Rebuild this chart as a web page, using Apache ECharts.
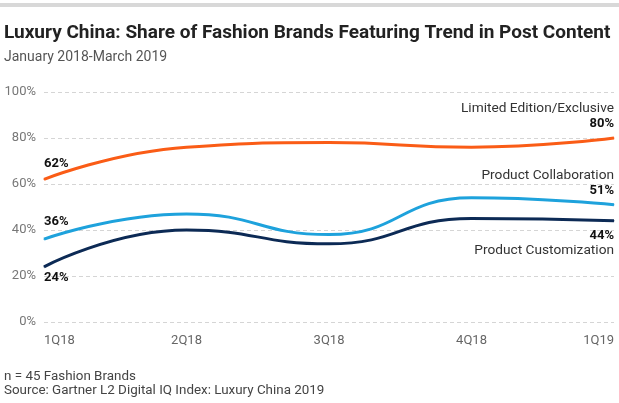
<!DOCTYPE html>
<html>
<head>
<meta charset="utf-8">
<script src="https://cdn.jsdelivr.net/npm/echarts@6/dist/echarts.min.js"></script>
<style>
  html, body { margin: 0; padding: 0; background: #fff; }
  #main { width: 619px; height: 403px; }
</style>
</head>
<body>
<div id="main"></div>
<script>
var quarters = ['1Q18', '2Q18', '3Q18', '4Q18', '1Q19'];
var limitedEdition = [62, 76, 78, 76, 80];
var collaboration = [36, 47, 38, 54, 51];
var customization = [24, 40, 34, 45, 44];
var yTicks = [0, 20, 40, 60, 80, 100];

var FONT = 'Roboto';

// 首尾两个点加标注
function withLabels(values, first, last) {
    return values.map(function (v, i) {
        if (i === 0) return { value: v, label: first };
        if (i === values.length - 1) return { value: v, label: last };
        return v;
    });
}

function pct(v) { return v + '%'; }

var rich = {
    n: { fontFamily: FONT, fontSize: 13.7, color: '#333', lineHeight: 15, align: 'right' },
    v: { fontFamily: FONT, fontSize: 13, fontWeight: 'bold', color: '#111', lineHeight: 15, align: 'right' }
};

function startLabel(v, pos, dist) {
    return { show: true, position: pos, align: 'left', distance: dist, formatter: pct(v),
             fontFamily: FONT, fontWeight: 'bold', fontSize: 13, color: '#111' };
}

var myChart = echarts.init(document.getElementById('main'));

myChart.setOption({
    animation: false,
    textStyle: { fontFamily: FONT },
    title: {
        text: 'Luxury China: Share of Fashion Brands Featuring Trend in Post Content',
        subtext: 'January 2018-March 2019',
        left: 4,
        top: 24,
        padding: 0,
        itemGap: 7,
        textStyle: { fontFamily: FONT, fontSize: 19, fontWeight: 'bold', color: '#222' },
        subtextStyle: { fontFamily: FONT, fontSize: 14, color: '#555' }
    },
    grid: { left: 44, right: 5, top: 92, bottom: 81 },
    xAxis: {
        type: 'category',
        data: quarters,
        boundaryGap: false,
        axisLine: { show: false },
        axisTick: { show: false },
        axisLabel: {
            color: '#666', fontSize: 13, margin: 12,
            alignMinLabel: 'left', alignMaxLabel: 'right'
        }
    },
    yAxis: {
        type: 'value',
        min: yTicks[0],
        max: yTicks[yTicks.length - 1],
        interval: 20,
        axisLine: { show: false },
        axisTick: { show: false },
        axisLabel: { color: '#777', fontSize: 13, margin: 8, formatter: '{value}%' },
        splitLine: { lineStyle: { color: '#d5d5d5', type: [4, 3] } }
    },
    series: [
        {
            name: 'Limited Edition/Exclusive',
            type: 'line',
            smooth: 0.5,
            symbol: 'circle',
            symbolSize: 1,
            itemStyle: { color: '#fa5c16' },
            lineStyle: { color: '#fa5c16', width: 3 },
            data: withLabels(limitedEdition,
                startLabel(limitedEdition[0], 'top', 9),
                { show: true, position: 'top', align: 'right', distance: 6,
                  formatter: '{n|Limited Edition/Exclusive}\n{v|' + pct(limitedEdition[4]) + '}', rich: rich })
        },
        {
            name: 'Product Collaboration',
            type: 'line',
            smooth: 0.5,
            symbol: 'circle',
            symbolSize: 1,
            itemStyle: { color: '#1ea2dc' },
            lineStyle: { color: '#1ea2dc', width: 3 },
            data: withLabels(collaboration,
                startLabel(collaboration[0], 'top', 10),
                { show: true, position: 'top', align: 'right', distance: 6,
                  formatter: '{n|Product Collaboration}\n{v|' + pct(collaboration[4]) + '}', rich: rich })
        },
        {
            name: 'Product Customization',
            type: 'line',
            smooth: 0.5,
            symbol: 'circle',
            symbolSize: 1,
            itemStyle: { color: '#0c2a55' },
            lineStyle: { color: '#0c2a55', width: 3 },
            data: withLabels(customization,
                startLabel(customization[0], 'bottom', 4),
                { show: true, position: 'bottom', align: 'right', distance: 7,
                  formatter: '{v|' + pct(customization[4]) + '}\n{n|Product Customization}', rich: rich })
        }
    ],
    graphic: [
        { type: 'rect', left: 0, top: 3, shape: { width: 619, height: 4 }, style: { fill: '#d8d8d8' } },
        { type: 'text', left: 4, top: 370, style: { text: 'n = 45 Fashion Brands', fontFamily: FONT, fontSize: 13.4, fill: '#444' } },
        { type: 'text', left: 4, top: 384, style: { text: 'Source: Gartner L2 Digital IQ Index: Luxury China 2019', fontFamily: FONT, fontSize: 13.4, fill: '#444' } }
    ]
});
</script>
</body>
</html>
